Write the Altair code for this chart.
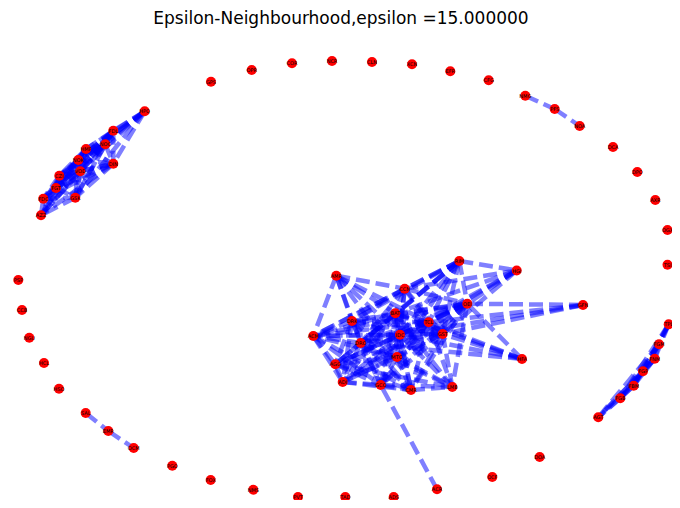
import altair as alt
import pandas as pd

TITLE = "Epsilon-Neighbourhood,epsilon =15.000000"

# node names and positions (in picture pixels)
names = [
    # left cluster
    "HPQ", "FDL", "NOC", "HMP", "NOK", "DIN", "VOD", "CZI", "FGT", "FDC", "GSK", "AZZ",
    # central cluster
    "RIM", "AMR", "CCN", "OEI", "BAT", "DRK", "TCL", "ACM", "IDC", "GST", "DRO", "MTO",
    "AGG", "ADI", "GCO", "CMR", "LMB", "HGI", "GFN", "HFA",
    # right cluster
    "TPL", "FGM", "FNM", "FGP", "FBM", "FGB", "AGT",
    # ring
    "GPS", "OPR", "COR", "NCR", "CLN", "XCN", "EFR", "CFG", "NMG", "PFS", "NOA", "DCA",
    "DPO", "AXR", "OGX", "TSI", "PSP", "CCB", "NGU", "HCL", "HSO", "SAL", "EMR", "OCM",
    "PGO", "FOX", "NMS", "PVT", "TAD", "ADS", "ACR", "OCF", "DOA",
]
xs = [
    144.7, 113.3, 105.3, 86.0, 78.3, 113.3, 80.3, 59.3, 56.0, 43.3, 75.3, 41.0,
    459.3, 336.3, 404.7, 467.3, 395.3, 352.0, 428.7, 313.3, 400.0, 442.7, 360.7, 397.0,
    335.3, 342.7, 380.7, 411.0, 452.3, 516.7, 583.0, 522.0,
    668.7, 659.0, 654.7, 643.0, 633.7, 620.3, 598.3,
    211.0, 251.7, 292.0, 332.0, 372.0, 412.0, 450.3, 488.7, 525.3, 554.7, 579.7, 613.0,
    637.3, 655.3, 667.5, 667.5, 18.3, 22.0, 29.3, 44.0, 59.0, 85.7, 108.3, 133.7,
    172.3, 210.7, 253.3, 298.0, 345.3, 393.7, 437.0, 492.3, 539.7,
]
ys = [
    111.3, 130.7, 144.3, 149.0, 160.0, 163.7, 171.3, 175.7, 188.0, 198.7, 197.7, 215.3,
    261.0, 275.7, 288.7, 303.7, 313.3, 321.0, 322.3, 336.0, 334.7, 334.0, 343.0, 357.0,
    364.3, 382.0, 385.0, 390.0, 387.0, 270.5, 305.0, 359.0,
    324.3, 344.3, 358.7, 371.3, 385.7, 398.3, 417.3,
    81.7, 70.0, 63.3, 61.0, 62.0, 64.3, 71.3, 80.3, 95.7, 109.0, 126.0, 147.0,
    172.0, 200.0, 230.0, 264.7, 280.0, 310.0, 337.7, 363.0, 388.7, 413.0, 431.0, 448.0,
    465.7, 480.0, 489.7, 497.0, 497.0, 497.0, 489.3, 477.0, 457.0,
]

# edges (neighbours listed once per pair)
adjacency = {
    "HPQ": "FDL NOC HMP NOK DIN VOD CZI GSK",
    "FDL": "NOC HMP NOK DIN VOD CZI FGT FDC GSK AZZ",
    "NOC": "HMP NOK DIN VOD CZI FGT FDC GSK AZZ",
    "HMP": "NOK DIN VOD CZI FGT FDC GSK AZZ",
    "NOK": "DIN VOD CZI FGT FDC GSK AZZ",
    "DIN": "VOD CZI FGT FDC GSK AZZ",
    "VOD": "CZI FGT FDC GSK AZZ",
    "CZI": "FGT FDC GSK AZZ",
    "FGT": "FDC GSK AZZ",
    "FDC": "GSK AZZ",
    "GSK": "AZZ",
    "RIM": "CCN BAT DRK TCL IDC GST OEI HGI DRO MTO ACM AGG",
    "HGI": "OEI GST TCL BAT IDC CCN",
    "GFN": "OEI GST TCL IDC",
    "HFA": "OEI GST TCL IDC BAT DRO",
    "ACR": "GCO",
    "AMR": "ACM BAT DRK IDC TCL DRO MTO CCN",
    "CCN": "BAT DRK TCL IDC GST OEI DRO MTO ACM",
    "OEI": "BAT DRK TCL IDC GST DRO MTO ACM AGG ADI GCO CMR LMB",
    "BAT": "DRK TCL IDC GST DRO MTO ACM AGG ADI GCO CMR LMB",
    "DRK": "TCL IDC GST DRO MTO ACM AGG ADI GCO CMR",
    "TCL": "IDC GST DRO MTO ACM AGG ADI GCO CMR LMB",
    "IDC": "GST DRO MTO ACM AGG ADI GCO CMR LMB",
    "GST": "DRO MTO ACM AGG ADI GCO CMR LMB",
    "DRO": "MTO ACM AGG ADI GCO CMR LMB",
    "MTO": "ACM AGG ADI GCO CMR LMB",
    "ACM": "AGG ADI GCO CMR",
    "AGG": "ADI GCO CMR LMB",
    "ADI": "GCO CMR",
    "GCO": "CMR LMB",
    "CMR": "LMB",
    "TPL": "FGM FNM FGP FBM FGB",
    "FGM": "FNM FGP FBM FGB AGT",
    "FNM": "FGP FBM FGB AGT",
    "FGP": "FBM FGB AGT",
    "FBM": "FGB AGT",
    "FGB": "AGT",
    "NMG": "PFS",
    "PFS": "NOA",
    "SAL": "EMR",
    "EMR": "OCM",
}

nodes = pd.DataFrame({"name": names, "x": xs, "y": ys})
pos = dict(zip(names, zip(xs, ys)))
rows = []
for a, nbrs in adjacency.items():
    for b in nbrs.split():
        rows.append({"x": pos[a][0], "y": pos[a][1], "x2": pos[b][0], "y2": pos[b][1]})
edges = pd.DataFrame(rows)

W, H = 664, 492
xsc = alt.Scale(domain=[8, 8 + W], nice=False, zero=False)
ysc = alt.Scale(domain=[8, 8 + H], nice=False, zero=False, reverse=True)

edge_layer = alt.Chart(edges).mark_rule(
    color="#0000ff", opacity=0.5, strokeWidth=4.5, strokeDash=[14, 6], strokeCap="butt"
).encode(
    x=alt.X("x:Q", scale=xsc, axis=None),
    y=alt.Y("y:Q", scale=ysc, axis=None),
    x2="x2:Q",
    y2="y2:Q",
)

node_layer = alt.Chart(nodes).mark_circle(color="#ff0000", opacity=1, size=100).encode(
    x=alt.X("x:Q", scale=xsc, axis=None),
    y=alt.Y("y:Q", scale=ysc, axis=None),
)

label_layer = alt.Chart(nodes).mark_text(
    fontSize=5, font="DejaVu Sans", color="black", align="center", baseline="middle"
).encode(
    x=alt.X("x:Q", scale=xsc, axis=None),
    y=alt.Y("y:Q", scale=ysc, axis=None),
    text="name:N",
)

title_layer = alt.Chart(pd.DataFrame({"t": [TITLE]})).mark_text(
    fontSize=17, font="DejaVu Sans", color="black", align="center", baseline="alphabetic"
).encode(x=alt.value(333), y=alt.value(16), text="t:N")

chart = alt.layer(edge_layer, node_layer, label_layer, title_layer).properties(
    width=W, height=H, padding=0, autosize=alt.AutoSizeParams(type="none")
).configure_view(stroke=None)

chart.save("out.html", embed_options={"renderer": "svg", "actions": False})
